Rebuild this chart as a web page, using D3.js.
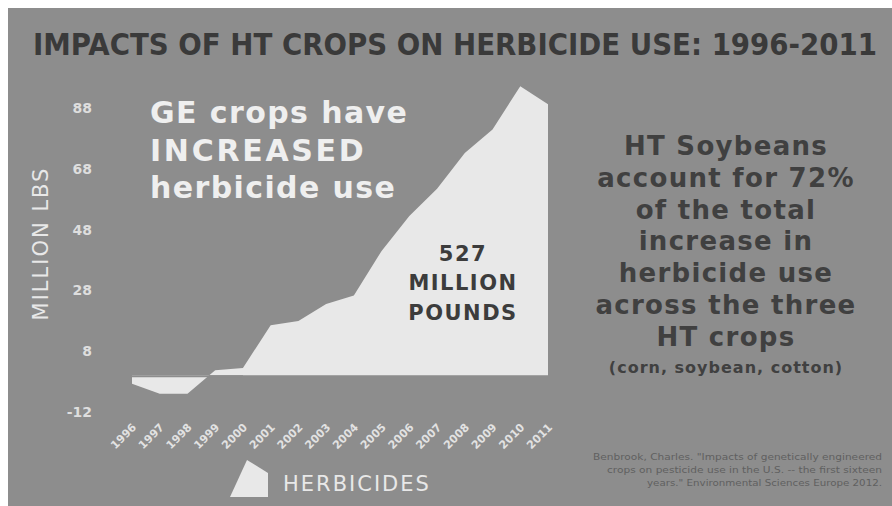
<!DOCTYPE html>
<html lang="en">
<head>
    <meta charset="UTF-8">
    <script src="https://d3js.org/d3.v7.min.js"></script>
    <title>Impacts of HT crops on herbicide use</title>
    <style>
        body { margin: 0; background: white; }
        svg { display: block; }
    </style>
</head>
<body>
    <div id="chart"></div>
    <script>
        // herbicide change per year, million lbs
        const years = [1996, 1997, 1998, 1999, 2000, 2001, 2002, 2003, 2004, 2005, 2006, 2007, 2008, 2009, 2010, 2011];
        const herbicides = [-2.8, -6.1, -6.1, 1.7, 2.4, 16.5, 17.9, 23.5, 26.3, 41, 52.5, 61.5, 73.3, 81, 95.3, 89.3];
        const yTicks = [-12, 8, 28, 48, 68, 88];

        const titleText = "IMPACTS OF HT CROPS ON HERBICIDE USE: 1996-2011";
        const leftNote = ["GE crops have", "INCREASED", "herbicide use"];
        const totalNote = ["527", "MILLION", "POUNDS"];
        const rightNote = ["HT Soybeans", "account for 72%", "of the total", "increase in", "herbicide use", "across the three", "HT crops"];
        const rightSub = "(corn, soybean, cotton)";
        const source = [
            "Benbrook, Charles. \"Impacts of genetically engineered",
            "crops on pesticide use in the U.S. -- the first sixteen",
            "years.\" Environmental Sciences Europe 2012."
        ];

        const W = 892, H = 506;
        const bg = "#8d8d8d";
        const light = "#e8e8e8";
        const dark = "#3c3c3c";

        const svg = d3.select("#chart").append("svg")
            .attr("width", W).attr("height", H);

        svg.append("rect").attr("x", 8).attr("y", 8)
            .attr("width", W - 8).attr("height", H - 8).attr("fill", bg);

        const x = d3.scaleLinear().domain([1996, 2011]).range([132, 548]);
        const y = d3.scaleLinear().domain([-12, 88]).range([411.7, 108.3]);

        // title
        svg.append("text")
            .attr("x", 33).attr("y", 55)
            .attr("textLength", 844).attr("lengthAdjust", "spacingAndGlyphs")
            .style("font-family", "'DejaVu Sans Condensed', 'DejaVu Sans'")
            .style("font-stretch", "condensed")
            .style("font-weight", "bold").style("font-size", "31px")
            .attr("fill", "#3a3a3a")
            .text(titleText);

        // y axis
        svg.append("text")
            .attr("transform", "translate(48,243.5) rotate(-90)")
            .attr("text-anchor", "middle")
            .style("font-family", "'DejaVu Sans'").style("font-size", "21px")
            .style("letter-spacing", "2px")
            .attr("fill", light)
            .text("MILLION LBS");

        svg.append("g").selectAll("text")
            .data(yTicks).join("text")
            .attr("x", 92).attr("y", d => y(d)).attr("dy", "0.36em")
            .attr("text-anchor", "end")
            .style("font-family", "'DejaVu Sans'").style("font-weight", "bold")
            .style("font-size", "14px")
            .attr("fill", "#dedede")
            .text(d => d);

        // x labels
        svg.append("g").selectAll("text")
            .data(years).join("text")
            .attr("transform", d => `translate(${x(d) + 5},428) rotate(-45)`)
            .attr("text-anchor", "end")
            .style("font-family", "'DejaVu Sans'").style("font-weight", "bold")
            .style("font-size", "11px")
            .attr("fill", "#e2e2e2")
            .text(d => d);

        // area
        const area = d3.area()
            .x((d, i) => x(years[i]))
            .y0(y(0))
            .y1(d => y(d));

        svg.append("path")
            .datum(herbicides)
            .attr("fill", light)
            .attr("d", area);

        // thin gap along the zero line
        svg.append("line")
            .attr("x1", x(1996) - 2).attr("x2", x(2000))
            .attr("y1", y(0) + 1).attr("y2", y(0) + 1)
            .attr("stroke", bg).attr("stroke-width", 2);

        // left note
        const leftSpacing = ["1.4px", "2.7px", "1.4px"];
        svg.append("g").selectAll("text")
            .data(leftNote).join("text")
            .attr("x", 150).attr("y", (d, i) => 123 + i * 37.5)
            .style("font-family", "'DejaVu Sans'").style("font-weight", "bold")
            .style("font-size", "30px")
            .style("letter-spacing", (d, i) => leftSpacing[i])
            .attr("fill", "#efefef")
            .text(d => d);

        // total inside the area
        svg.append("g").selectAll("text")
            .data(totalNote).join("text")
            .attr("x", 463).attr("y", (d, i) => 261 + i * 29.3)
            .attr("text-anchor", "middle")
            .style("font-family", "'DejaVu Sans'").style("font-weight", "bold")
            .style("font-size", "21px").style("letter-spacing", "1.5px")
            .attr("fill", dark)
            .text(d => d);

        // right note
        svg.append("g").selectAll("text")
            .data(rightNote).join("text")
            .attr("x", 726).attr("y", (d, i) => 155 + i * 31.8)
            .attr("text-anchor", "middle")
            .style("font-family", "'DejaVu Sans'").style("font-weight", "bold")
            .style("font-size", "26px").style("letter-spacing", "1.3px")
            .attr("fill", "#404040")
            .text(d => d);

        svg.append("text")
            .attr("x", 726).attr("y", 373)
            .attr("text-anchor", "middle")
            .style("font-family", "'DejaVu Sans'").style("font-weight", "bold")
            .style("font-size", "16px").style("letter-spacing", "1px")
            .attr("fill", "#404040")
            .text(rightSub);

        // source
        const srcLen = [289, 275, 235];
        svg.append("g").selectAll("text")
            .data(source).join("text")
            .attr("x", 882).attr("y", (d, i) => 460 + i * 13)
            .attr("text-anchor", "end")
            .attr("textLength", (d, i) => srcLen[i])
            .attr("lengthAdjust", "spacingAndGlyphs")
            .style("font-family", "'DejaVu Sans'").style("font-size", "9px")
            .attr("fill", "#606060")
            .text(d => d);

        // legend
        const leg = svg.append("g").attr("transform", "translate(230,460)");
        leg.append("path")
            .attr("d", "M17,0 L38,13 L38,37 L0,37 Z")
            .attr("fill", light);
        leg.append("text")
            .attr("x", 53).attr("y", 31)
            .style("font-family", "'DejaVu Sans'").style("font-size", "21px")
            .style("letter-spacing", "2px")
            .attr("fill", light)
            .text("HERBICIDES");
    </script>
</body>
</html>
